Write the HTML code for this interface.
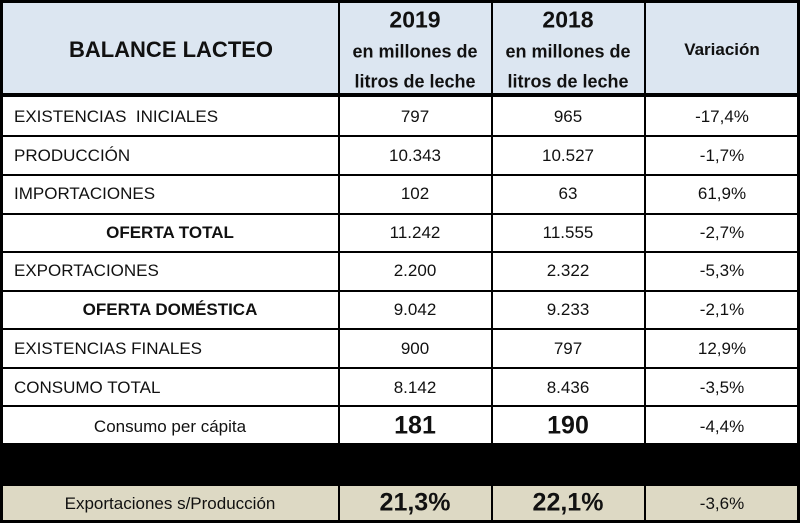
<!DOCTYPE html>
<html><head><meta charset="utf-8"><style>
body{margin:0;width:800px;height:523px;background:#fff;position:relative;overflow:hidden;font-family:"Liberation Sans",Arial,sans-serif;color:#111}
.a{position:absolute}
.h{background:#000}
.t{position:absolute;white-space:nowrap;transform:translate(-50%,-50%)}
.l{position:absolute;white-space:nowrap;transform:translateY(-50%)}
.n{font-size:17px}
.b{font-weight:bold}
</style></head><body>
<div class="a" style="left:0;top:0;width:800px;height:95px;background:#dce6f1"></div>
<div class="a" style="left:0;top:485px;width:800px;height:38px;background:#ddd9c4"></div>
<div class="a h" style="left:0;top:443px;width:800px;height:41px"></div>
<div class="a h" style="left:0;top:0;width:800px;height:3px"></div>
<div class="a h" style="left:0;top:520px;width:800px;height:3px"></div>
<div class="a h" style="left:0;top:0;width:3px;height:523px"></div>
<div class="a h" style="left:797px;top:0;width:3px;height:523px"></div>
<div class="a h" style="left:0;top:93px;width:800px;height:4px"></div>
<div class="a h" style="left:338px;top:0;width:2px;height:523px"></div>
<div class="a h" style="left:491px;top:0;width:2px;height:523px"></div>
<div class="a h" style="left:644px;top:0;width:2px;height:523px"></div>
<div class="a h" style="left:0;top:135px;width:800px;height:2px"></div>
<div class="a h" style="left:0;top:174px;width:800px;height:2px"></div>
<div class="a h" style="left:0;top:213px;width:800px;height:2px"></div>
<div class="a h" style="left:0;top:251px;width:800px;height:2px"></div>
<div class="a h" style="left:0;top:290px;width:800px;height:2px"></div>
<div class="a h" style="left:0;top:328px;width:800px;height:2px"></div>
<div class="a h" style="left:0;top:367px;width:800px;height:2px"></div>
<div class="a h" style="left:0;top:405px;width:800px;height:2px"></div>
<div class="a h" style="left:0;top:484px;width:800px;height:2px"></div>

<div class="t b" style="left:171px;top:50px;font-size:22px">BALANCE LACTEO</div>
<div class="t b" style="left:415px;top:20px;font-size:23px">2019</div>
<div class="t b" style="left:415px;top:52px;font-size:18px">en millones de</div>
<div class="t b" style="left:415px;top:82px;font-size:18px">litros de leche</div>
<div class="t b" style="left:568px;top:20px;font-size:23px">2018</div>
<div class="t b" style="left:568px;top:52px;font-size:18px">en millones de</div>
<div class="t b" style="left:568px;top:82px;font-size:18px">litros de leche</div>
<div class="t b" style="left:722px;top:50px;font-size:17px">Variación</div>

<div class="l n" style="left:14px;top:117px">EXISTENCIAS&nbsp; INICIALES</div>
<div class="l n" style="left:14px;top:156px">PRODUCCIÓN</div>
<div class="l n" style="left:14px;top:194px">IMPORTACIONES</div>
<div class="t n b" style="left:170px;top:233px">OFERTA TOTAL</div>
<div class="l n" style="left:14px;top:271px">EXPORTACIONES</div>
<div class="t n b" style="left:170px;top:310px">OFERTA DOMÉSTICA</div>
<div class="l n" style="left:14px;top:349px">EXISTENCIAS FINALES</div>
<div class="l n" style="left:14px;top:388px">CONSUMO TOTAL</div>
<div class="t n" style="left:170px;top:427px">Consumo per cápita</div>
<div class="t n" style="left:170px;top:504px">Exportaciones s/Producción</div>

<div class="t n" style="left:415px;top:117px">797</div><div class="t n" style="left:568px;top:117px">965</div><div class="t n" style="left:722px;top:117px">-17,4%</div>
<div class="t n" style="left:415px;top:156px">10.343</div><div class="t n" style="left:568px;top:156px">10.527</div><div class="t n" style="left:722px;top:156px">-1,7%</div>
<div class="t n" style="left:415px;top:194px">102</div><div class="t n" style="left:568px;top:194px">63</div><div class="t n" style="left:722px;top:194px">61,9%</div>
<div class="t n" style="left:415px;top:233px">11.242</div><div class="t n" style="left:568px;top:233px">11.555</div><div class="t n" style="left:722px;top:233px">-2,7%</div>
<div class="t n" style="left:415px;top:271px">2.200</div><div class="t n" style="left:568px;top:271px">2.322</div><div class="t n" style="left:722px;top:271px">-5,3%</div>
<div class="t n" style="left:415px;top:310px">9.042</div><div class="t n" style="left:568px;top:310px">9.233</div><div class="t n" style="left:722px;top:310px">-2,1%</div>
<div class="t n" style="left:415px;top:349px">900</div><div class="t n" style="left:568px;top:349px">797</div><div class="t n" style="left:722px;top:349px">12,9%</div>
<div class="t n" style="left:415px;top:388px">8.142</div><div class="t n" style="left:568px;top:388px">8.436</div><div class="t n" style="left:722px;top:388px">-3,5%</div>
<div class="t b" style="left:415px;top:426px;font-size:25px">181</div><div class="t b" style="left:568px;top:426px;font-size:25px">190</div><div class="t n" style="left:722px;top:427px">-4,4%</div>
<div class="t b" style="left:415px;top:503px;font-size:25px">21,3%</div><div class="t b" style="left:568px;top:503px;font-size:25px">22,1%</div><div class="t n" style="left:722px;top:504px">-3,6%</div>
</body></html>
